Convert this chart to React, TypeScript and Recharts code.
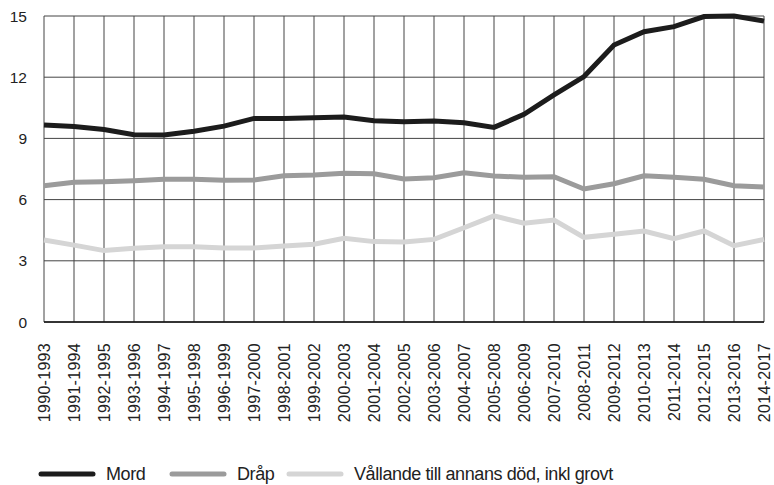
import { CartesianGrid, Line, LineChart, XAxis, YAxis } from 'recharts';

const PERIODS = [
  '1990-1993', '1991-1994', '1992-1995', '1993-1996', '1994-1997',
  '1995-1998', '1996-1999', '1997-2000', '1998-2001', '1999-2002',
  '2000-2003', '2001-2004', '2002-2005', '2003-2006', '2004-2007',
  '2005-2008', '2006-2009', '2007-2010', '2008-2011', '2009-2012',
  '2010-2013', '2011-2014', '2012-2015', '2013-2016', '2014-2017',
];

const MORD = [
  9.66, 9.58, 9.44, 9.18, 9.17, 9.35, 9.6, 9.98, 9.98, 10.01,
  10.05, 9.87, 9.82, 9.85, 9.77, 9.54, 10.18, 11.13, 12.03, 13.58,
  14.23, 14.48, 14.97, 15.0, 14.75,
];

const DRAP = [
  6.68, 6.85, 6.88, 6.93, 7.0, 7.0, 6.95, 6.96, 7.17, 7.2,
  7.29, 7.27, 7.01, 7.07, 7.32, 7.16, 7.09, 7.12, 6.52, 6.78,
  7.17, 7.09, 7.0, 6.68, 6.62,
];

const VALLANDE = [
  4.02, 3.77, 3.5, 3.61, 3.69, 3.69, 3.63, 3.63, 3.73, 3.81,
  4.1, 3.94, 3.92, 4.05, 4.62, 5.2, 4.84, 5.0, 4.15, 4.3,
  4.46, 4.08, 4.46, 3.74, 4.05,
];

const Y_TICKS = [0, 3, 6, 9, 12, 15];

const SERIES = [
  { key: 'mord', name: 'Mord', colour: '#1c1c1c' },
  { key: 'drap', name: 'Dråp', colour: '#9b9b9b' },
  { key: 'vallande', name: 'Vållande till annans död, inkl grovt', colour: '#d5d5d5' },
];

// left edge of each legend item (px)
const LEGEND_X = [38, 169, 286];

const data = PERIODS.map((period, i) => ({
  period,
  mord: MORD[i],
  drap: DRAP[i],
  vallande: VALLANDE[i],
}));

const FONT = '"Liberation Sans", Arial, sans-serif';

function PeriodTick({ x, y, payload }: any) {
  return (
    <g transform={`translate(${x},${y + 13})`}>
      <text
        x={0}
        y={0}
        dy={5.5}
        textAnchor="end"
        transform="rotate(-90)"
        fontSize={16}
        letterSpacing={0.3}
        fill="#222"
        fontFamily={FONT}
      >
        {payload.value}
      </text>
    </g>
  );
}

export default function App() {
  return (
    <div style={{ position: 'absolute', left: 0, top: 0, width: 774, height: 485, background: '#fff' }}>
      <LineChart
        width={774}
        height={485}
        data={data}
        margin={{ top: 16, right: 10, bottom: 73, left: 0 }}
      >
        <CartesianGrid stroke="#444" strokeWidth={1} vertical horizontal />
        <XAxis
          dataKey="period"
          interval={0}
          height={90}
          tick={<PeriodTick />}
          tickLine={false}
          axisLine={{ stroke: '#111', strokeWidth: 1.5 }}
        />
        <YAxis
          domain={[0, 15]}
          ticks={Y_TICKS}
          width={44}
          tickSize={0}
          tickMargin={17}
          axisLine={false}
          tickLine={false}
          tick={{ fontSize: 15.5, fill: '#222', fontFamily: FONT }}
        />
        {SERIES.map((s) => (
          <Line
            key={s.key}
            type="linear"
            dataKey={s.key}
            name={s.name}
            stroke={s.colour}
            strokeWidth={5}
            dot={false}
            activeDot={false}
            isAnimationActive={false}
          />
        ))}
      </LineChart>
      {SERIES.map((s, i) => (
        <div
          key={s.key}
          style={{
            position: 'absolute',
            left: LEGEND_X[i],
            top: 463,
            height: 22,
            display: 'flex',
            alignItems: 'center',
            fontFamily: FONT,
            fontSize: 18,
            letterSpacing: -0.4,
            color: '#222',
            whiteSpace: 'nowrap',
          }}
        >
          <svg width={58} height={8} style={{ marginRight: 10 }}>
            <line x1={3} y1={4} x2={55} y2={4} stroke={s.colour} strokeWidth={5} strokeLinecap="round" />
          </svg>
          <span>{s.name}</span>
        </div>
      ))}
    </div>
  );
}
